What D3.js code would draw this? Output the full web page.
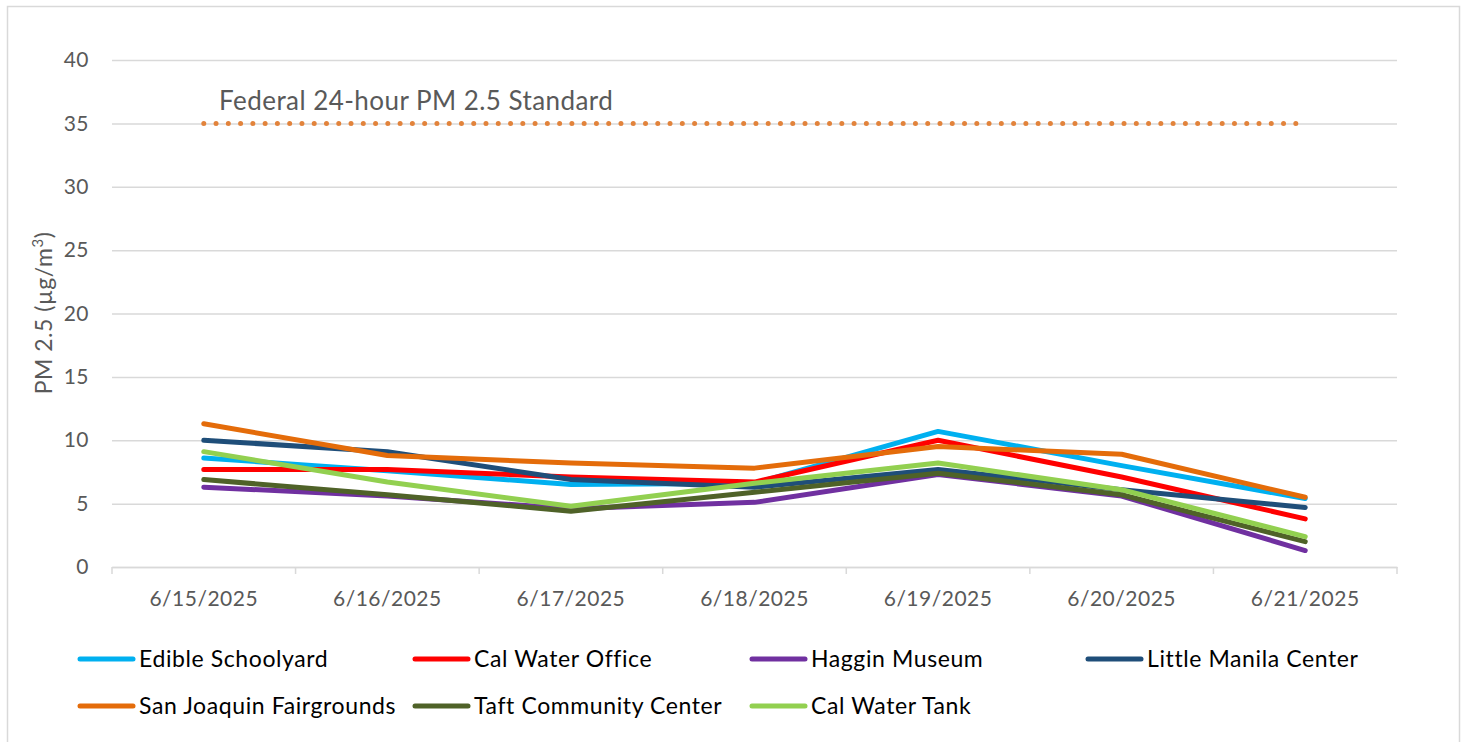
<!DOCTYPE html>
<html>
<head>
<meta charset="utf-8">
<script src="https://cdn.jsdelivr.net/npm/d3@7"></script>
<style>
  html, body { margin: 0; padding: 0; background: #fff; }
  svg { display: block; }
  text { font-family: Lato, "Open Sans", sans-serif; }
</style>
</head>
<body>
<svg id="chart" width="1464" height="742"></svg>
<script>
// ---- data ----
const dates = ["6/15/2025", "6/16/2025", "6/17/2025", "6/18/2025", "6/19/2025", "6/20/2025", "6/21/2025"];
const yTicks = [0, 5, 10, 15, 20, 25, 30, 35, 40];
const seriesNames = ["Edible Schoolyard", "Cal Water Office", "Haggin Museum", "Little Manila Center",
                     "San Joaquin Fairgrounds", "Taft Community Center", "Cal Water Tank"];
const edibleSchoolyard      = [8.6, 7.6, 6.5, 6.6, 10.7, 8.0, 5.4];
const calWaterOffice        = [7.7, 7.7, 7.1, 6.7, 10.0, 7.1, 3.8];
const hagginMuseum          = [6.3, 5.6, 4.6, 5.1, 7.3, 5.6, 1.3];
const littleManilaCenter    = [10.0, 9.1, 6.9, 6.3, 7.7, 6.1, 4.7];
const sanJoaquinFairgrounds = [11.3, 8.8, 8.2, 7.8, 9.5, 8.9, 5.5];
const taftCommunityCenter   = [6.9, 5.7, 4.4, 5.9, 7.4, 5.7, 2.0];
const calWaterTank          = [9.1, 6.7, 4.8, 6.6, 8.2, 6.1, 2.4];
const federalStandard       = [35, 35, 35, 35, 35, 35, 35];
const standardLabel = "Federal 24-hour PM 2.5 Standard";
const yTitle = "PM 2.5 (µg/m";

const seriesValues = [edibleSchoolyard, calWaterOffice, hagginMuseum, littleManilaCenter,
                      sanJoaquinFairgrounds, taftCommunityCenter, calWaterTank];
const colors = ["#00B0F0", "#FF0000", "#7030A0", "#1F4E79", "#E46C0A", "#4F6228", "#92D050"];

// ---- layout ----
const svg = d3.select("#chart");
const plot = { left: 112, right: 1397, top: 60, bottom: 567 };

svg.append("rect")
  .attr("x", 7.5).attr("y", 6.5).attr("width", 1452).attr("height", 740)
  .attr("fill", "#fff").attr("stroke", "#d9d9d9").attr("stroke-width", 1.5);

const x = d3.scaleBand().domain(dates).range([plot.left, plot.right]);
const xc = d => x(d) + x.bandwidth() / 2;
const y = d3.scaleLinear().domain([0, 40]).range([plot.bottom, plot.top]);

// gridlines + y tick labels
const yAxis = d3.axisLeft(y).tickValues(yTicks).tickSize(-(plot.right - plot.left)).tickPadding(23).tickFormat(d3.format("d"));
const gy = svg.append("g").attr("transform", `translate(${plot.left},0)`).call(yAxis);
gy.select(".domain").remove();
gy.selectAll(".tick line").attr("stroke", "#d9d9d9").attr("stroke-width", 1.5);
gy.selectAll(".tick text").attr("fill", "#595959")
  .style("font-size", "21px").style("font-family", "Lato").style("letter-spacing", "0.5px");

// x axis
const xAxis = d3.axisBottom(x).tickSize(0).tickPadding(24);
const gx = svg.append("g").attr("transform", `translate(0,${plot.bottom})`).call(xAxis);
gx.select(".domain").attr("stroke", "#d9d9d9").attr("stroke-width", 1.5);
gx.selectAll(".tick text").attr("fill", "#595959")
  .style("font-size", "21px").style("font-family", "Lato").style("letter-spacing", "0.5px");
// tick marks at category boundaries
const bounds = dates.map(d => x(d)).concat([plot.right]);
gx.selectAll(".bnd").data(bounds).enter().append("line")
  .attr("x1", d => d).attr("x2", d => d).attr("y1", 0).attr("y2", 7)
  .attr("stroke", "#d9d9d9").attr("stroke-width", 1.5);

// y title
const yt = svg.append("text")
  .attr("transform", `translate(52,313) rotate(-90)`)
  .attr("text-anchor", "middle")
  .attr("fill", "#595959").style("font-size", "23px").style("letter-spacing", "0.5px");
yt.append("tspan").text(yTitle);
yt.append("tspan").attr("dy", -9).style("font-size", "15px").text("3");
yt.append("tspan").attr("dy", 9).text(")");

// series lines
const line = d3.line().x((d, i) => xc(dates[i])).y(d => y(d));
seriesValues.forEach((vals, i) => {
  svg.append("path").datum(vals)
    .attr("d", line)
    .attr("fill", "none")
    .attr("stroke", colors[i])
    .attr("stroke-width", 5)
    .attr("stroke-linecap", "round")
    .attr("stroke-linejoin", "round");
});

// federal standard dotted line
svg.append("path").datum(federalStandard)
  .attr("d", line)
  .attr("fill", "none")
  .attr("stroke", "#E2833B")
  .attr("stroke-width", 5)
  .attr("stroke-linecap", "round")
  .attr("stroke-dasharray", "0 12.27");

svg.append("text")
  .attr("x", 219).attr("y", 110)
  .attr("fill", "#595959").style("font-size", "26px").style("letter-spacing", "0.45px")
  .text(standardLabel);

// legend
const legendCols = [80, 415, 752, 1088];
const legendRows = [659, 706];
seriesNames.forEach((name, i) => {
  const col = i < 4 ? i : i - 4;
  const row = i < 4 ? 0 : 1;
  const lx = legendCols[col], ly = legendRows[row];
  const g = svg.append("g");
  g.append("line")
    .attr("x1", lx).attr("x2", lx + 53).attr("y1", ly).attr("y2", ly)
    .attr("stroke", colors[i]).attr("stroke-width", 5).attr("stroke-linecap", "round");
  g.append("text")
    .attr("x", lx + 59).attr("y", ly + 8)
    .attr("fill", "#000").style("font-size", "23px").style("letter-spacing", "0.6px")
    .text(name);
});
</script>
</body>
</html>
